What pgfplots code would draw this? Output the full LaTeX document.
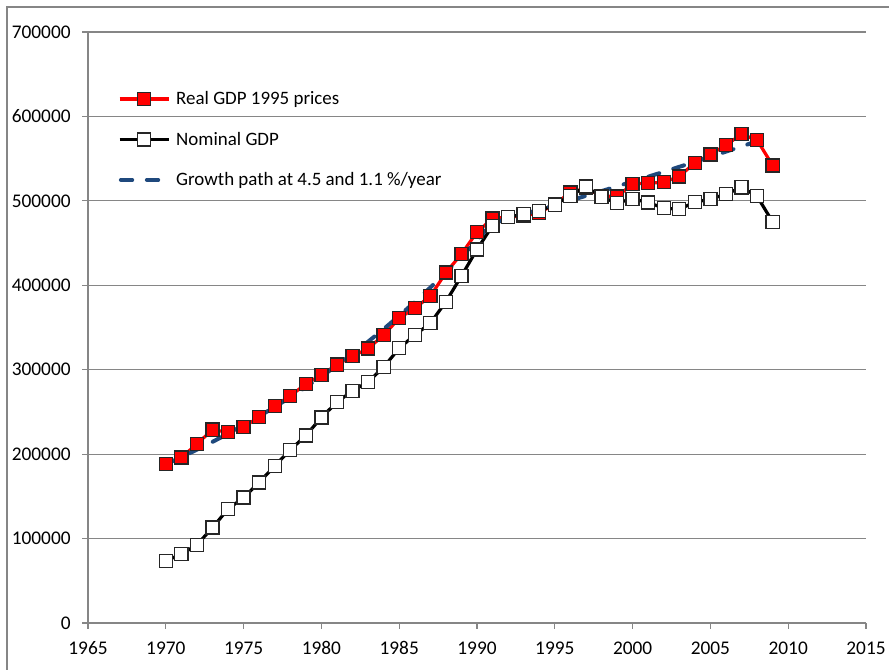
\documentclass[border=0pt]{standalone}
\usepackage{fontspec}
\setmainfont{Carlito}
\usepackage{pgfplots}
\pgfplotsset{compat=1.18}
\definecolor{axisgray}{RGB}{134,134,134}
\definecolor{pathblue}{RGB}{31,73,125}
\pgfplotsset{
  marklegend/.style={legend image code/.code={
    \draw[##1, mark repeat=2, mark phase=2] plot coordinates {(0pt,0pt) (18.5pt,0pt) (37pt,0pt)};}},
  linelegend/.style={legend image code/.code={
    \draw[##1] (1pt,0pt) -- (37pt,0pt);}},
}
\pgfplotstableread{
year real
1970 188000
1971 196000
1972 212000
1973 229000
1974 226000
1975 232000
1976 244000
1977 257000
1978 269000
1979 283000
1980 294000
1981 306000
1982 316000
1983 325000
1984 341000
1985 361000
1986 373000
1987 387000
1988 415000
1989 437000
1990 463000
1991 479000
1992 481000
1993 482000
1994 486000
1995 496000
1996 510000
1997 515000
1998 506000
1999 505000
2000 520000
2001 521000
2002 522000
2003 529000
2004 545000
2005 555000
2006 566000
2007 579000
2008 572000
2009 542000
}\realtab
\pgfplotstableread{
year nominal
1970 73500
1971 81500
1972 92500
1973 113000
1974 135000
1975 148500
1976 166500
1977 186000
1978 205000
1979 222000
1980 243500
1981 261500
1982 275000
1983 285500
1984 303000
1985 325500
1986 341000
1987 355000
1988 380500
1989 411000
1990 442500
1991 470500
1992 481000
1993 484000
1994 488000
1995 495500
1996 506000
1997 517000
1998 504500
1999 497500
2000 502500
2001 498000
2002 491500
2003 490000
2004 498500
2005 502000
2006 508000
2007 516000
2008 505500
2009 475000
}\nominaltab
\pgfplotstableread{
year path
1970 188000
1971 196460
1972 205301
1973 214539
1974 224194
1975 234282
1976 244825
1977 255842
1978 267355
1979 279386
1980 291958
1981 305096
1982 318826
1983 333173
1984 348166
1985 363833
1986 380205
1987 397314
1988 415193
1989 433877
1990 453401
1991 473804
1992 479016
1993 484285
1994 489612
1995 494998
1996 500443
1997 505948
1998 511513
1999 517140
2000 522829
2001 528580
2002 534394
2003 540273
2004 546216
2005 552224
2006 558299
2007 564440
2008 570649
}\pathtab
\begin{document}
\begin{tikzpicture}
\useasboundingbox (0,0) rectangle (666.75pt,502.5pt);
\draw[axisgray, line width=0.9pt] (5.25pt,0) -- (5.25pt,497.25pt) -- (666.75pt,497.25pt);
\begin{axis}[
  at={(66pt,35.25pt)}, anchor=south west,
  scale only axis, width=583.5pt, height=443.25pt,
  xmin=1965, xmax=2015, ymin=0, ymax=700000,
  xtick={1965,1970,...,2015},
  ytick={0,100000,200000,300000,400000,500000,600000,700000},
  axis lines*=left,
  axis line style={draw=axisgray, line width=0.9pt},
  ymajorgrids, grid style={draw=axisgray, line width=0.9pt},
  tick align=outside, major tick length=4.5pt,
  tick style={draw=axisgray, line width=0.9pt},
  scaled y ticks=false, scaled x ticks=false,
  /pgf/number format/fixed,
  /pgf/number format/precision=0,
  /pgf/number format/set thousands separator={},
  /pgf/number format/assume math mode=true,
  tick label style={font=\fontsize{14.5}{17}\selectfont, text=black},
  xticklabel style={yshift=-6pt},
  yticklabel style={xshift=-5pt},
  clip=false,
  legend cell align=left,
  legend style={draw=none, fill=none, at={(0.033,0.909)}, anchor=north west,
    font=\fontsize{14.2}{17}\selectfont, row sep=15pt, column sep=2pt},
]
\addplot[red, line width=2.4pt, mark=square*, mark size=4.9pt,
  mark options={fill=red, draw=black!85, line width=1pt, solid}, marklegend]
  table[x=year, y=real] {\realtab};
\addlegendentry{Real GDP 1995 prices}
\addplot[black, line width=2.4pt, mark=square*, mark size=4.9pt,
  mark options={fill=white, draw=black!85, line width=1pt, solid}, marklegend]
  table[x=year, y=nominal] {\nominaltab};
\addlegendentry{Nominal GDP}
\addplot[pathblue, line width=3pt, line cap=round, dash pattern=on 8.5pt off 11pt, linelegend]
  table[x=year, y=path] {\pathtab};
\addlegendentry{Growth path at 4.5 and 1.1 \%/year}
\end{axis}
\end{tikzpicture}
\end{document}
